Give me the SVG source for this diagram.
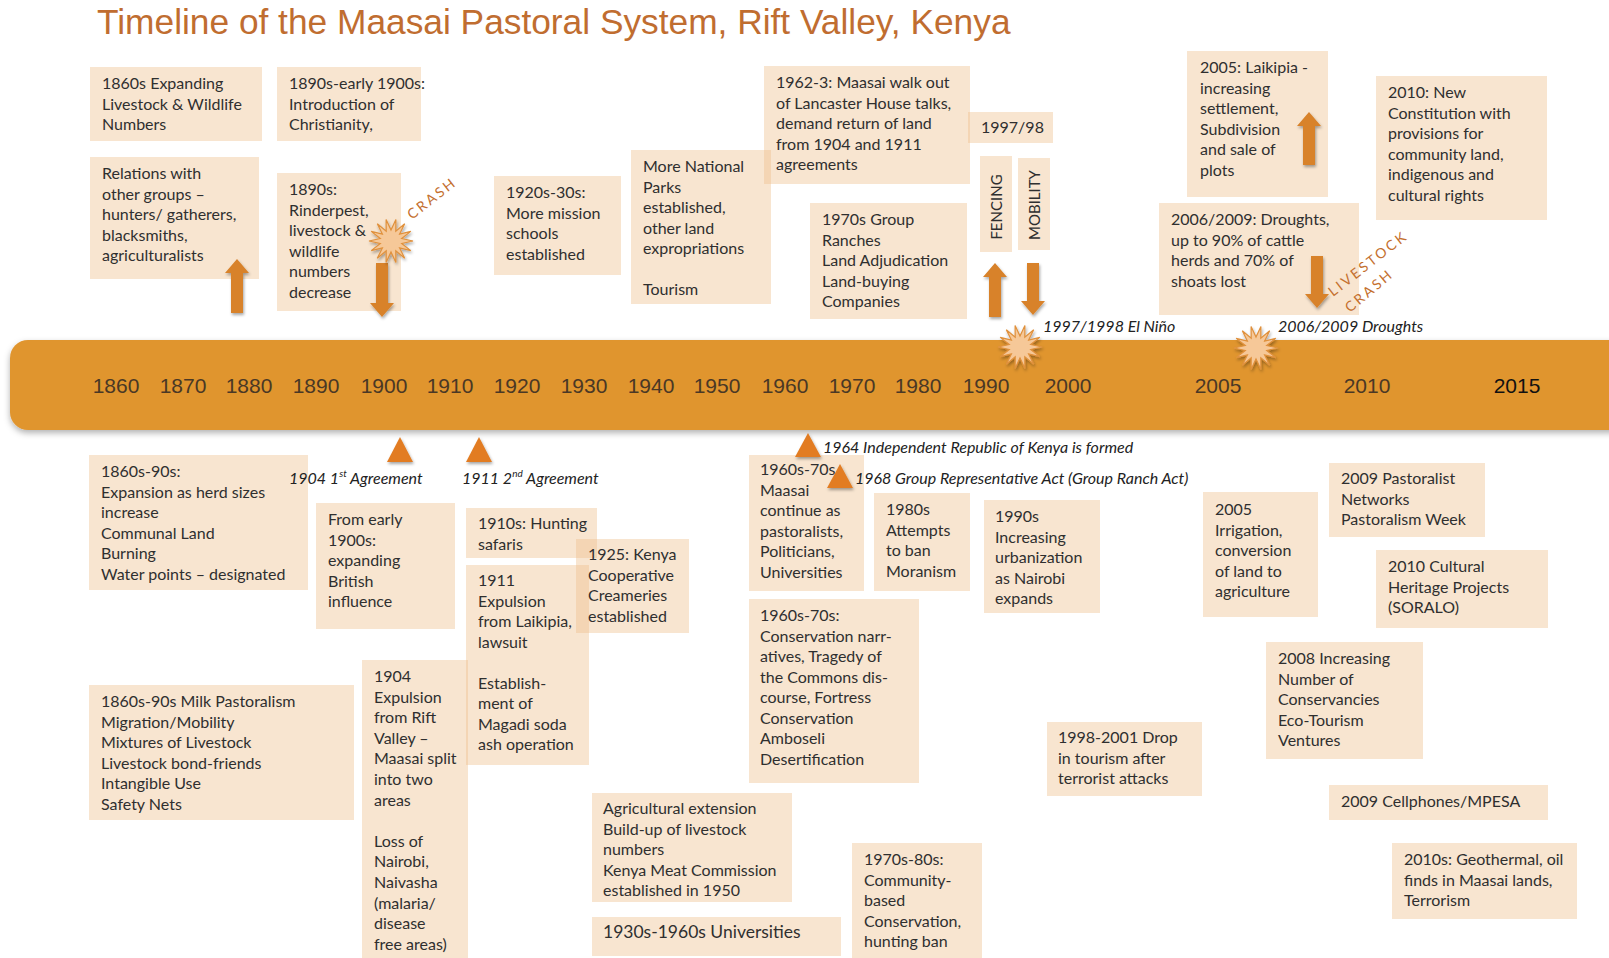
<svg xmlns="http://www.w3.org/2000/svg" width="1609" height="958" viewBox="0 0 1609 958">
<defs>
<filter id="sh" x="-10%" y="-30%" width="120%" height="170%"><feDropShadow dx="0" dy="3" stdDeviation="3" flood-color="#000" flood-opacity="0.3"/></filter>
<filter id="sh2" x="-40%" y="-40%" width="180%" height="180%"><feDropShadow dx="1" dy="2" stdDeviation="1.5" flood-color="#000" flood-opacity="0.35"/></filter>
<path id="star" d="M22,0 L10.7,2.5 L19.8,9.6 L8.6,6.9 L13.7,17.2 L4.8,9.9 L4.9,21.5 L0,11 L-4.9,21.5 L-4.8,9.9 L-13.7,17.2 L-8.6,6.9 L-19.8,9.6 L-10.7,2.5 L-22,0 L-10.7,-2.5 L-19.8,-9.6 L-8.6,-6.9 L-13.7,-17.2 L-4.8,-9.9 L-4.9,-21.5 L0,-11 L4.9,-21.5 L4.8,-9.9 L13.7,-17.2 L8.6,-6.9 L19.8,-9.6 L10.7,-2.5 Z"/>
</defs>
<style>
.box{fill:#eebd8a;fill-opacity:0.4}
.t{font-family:Lato,"Open Sans","Liberation Sans",sans-serif;font-size:16px;fill:#2f2f2f}
.it{font-family:Lato,"Open Sans","Liberation Sans",sans-serif;font-size:16px;font-style:italic;fill:#222}
.yr{font-family:"Liberation Sans",Arial,sans-serif;font-size:21px;fill:#4a3825;text-anchor:middle}
.yr2{font-family:"Liberation Sans",Arial,sans-serif;font-size:21px;fill:#111;text-anchor:middle}
.rot{font-family:Lato,"Open Sans",sans-serif;font-size:14px;fill:#c4702f;letter-spacing:2.5px}
.vt{font-family:Lato,"Open Sans",sans-serif;font-size:15px;fill:#2f2f2f;text-anchor:middle}
.arr{fill:#d8822a;filter:url(#sh2)}
.tri{fill:#e27c22;filter:url(#sh2)}
.burst{fill:#f6c898;stroke:#e0913d;stroke-width:1.2;filter:url(#sh2)}
</style>
<rect width="1609" height="958" fill="#ffffff"/>
<text x="97" y="34" font-family="Liberation Sans, Arial, sans-serif" font-size="35.3" fill="#c06d30">Timeline of the Maasai Pastoral System, Rift Valley, Kenya</text>

<g id="timeline-bar">
<rect x="10" y="340" width="1650" height="90" rx="18" fill="#e0952f" filter="url(#sh)"/>
<text class="yr" x="116" y="393">1860</text>
<text class="yr" x="183" y="393">1870</text>
<text class="yr" x="249" y="393">1880</text>
<text class="yr" x="316" y="393">1890</text>
<text class="yr" x="384" y="393">1900</text>
<text class="yr" x="450" y="393">1910</text>
<text class="yr" x="517" y="393">1920</text>
<text class="yr" x="584" y="393">1930</text>
<text class="yr" x="651" y="393">1940</text>
<text class="yr" x="717" y="393">1950</text>
<text class="yr" x="785" y="393">1960</text>
<text class="yr" x="852" y="393">1970</text>
<text class="yr" x="918" y="393">1980</text>
<text class="yr" x="986" y="393">1990</text>
<text class="yr" x="1068" y="393">2000</text>
<text class="yr" x="1218" y="393">2005</text>
<text class="yr" x="1367" y="393">2010</text>
<text class="yr2" x="1517" y="393">2015</text>
</g>

<g id="n-1860s-expanding"><rect class="box" x="90" y="67" width="172" height="74"/><text class="t" x="102" y="89"><tspan x="102">1860s Expanding</tspan><tspan x="102" dy="20.5">Livestock &amp; Wildlife</tspan><tspan x="102" dy="20.5">Numbers</tspan></text></g>
<g id="n-christianity"><rect class="box" x="277" y="67" width="144" height="74"/><text class="t" x="289" y="89"><tspan x="289">1890s-early 1900s:</tspan><tspan x="289" dy="20.5">Introduction of</tspan><tspan x="289" dy="20.5">Christianity,</tspan></text></g>
<g id="n-relations"><rect class="box" x="90" y="157" width="169" height="122"/><text class="t" x="102" y="179"><tspan x="102">Relations with</tspan><tspan x="102" dy="20.5">other groups –</tspan><tspan x="102" dy="20.5">hunters/ gatherers,</tspan><tspan x="102" dy="20.5">blacksmiths,</tspan><tspan x="102" dy="20.5">agriculturalists</tspan></text></g>
<g id="n-rinderpest"><rect class="box" x="277" y="173" width="124" height="138"/><text class="t" x="289" y="195"><tspan x="289">1890s:</tspan><tspan x="289" dy="20.5">Rinderpest,</tspan><tspan x="289" dy="20.5">livestock &amp;</tspan><tspan x="289" dy="20.5">wildlife</tspan><tspan x="289" dy="20.5">numbers</tspan><tspan x="289" dy="20.5">decrease</tspan></text></g>
<g id="n-missions"><rect class="box" x="494" y="176" width="127" height="99"/><text class="t" x="506" y="198"><tspan x="506">1920s-30s:</tspan><tspan x="506" dy="20.5">More mission</tspan><tspan x="506" dy="20.5">schools</tspan><tspan x="506" dy="20.5">established</tspan></text></g>
<g id="n-national-parks"><rect class="box" x="631" y="150" width="140" height="154"/><text class="t" x="643" y="172"><tspan x="643">More National</tspan><tspan x="643" dy="20.5">Parks</tspan><tspan x="643" dy="20.5">established,</tspan><tspan x="643" dy="20.5">other land</tspan><tspan x="643" dy="20.5">expropriations</tspan><tspan x="643" dy="41">Tourism</tspan></text></g>
<g id="n-lancaster"><rect class="box" x="764" y="66" width="206" height="118"/><text class="t" x="776" y="88"><tspan x="776">1962-3: Maasai walk out</tspan><tspan x="776" dy="20.5">of Lancaster House talks,</tspan><tspan x="776" dy="20.5">demand return of land</tspan><tspan x="776" dy="20.5">from 1904 and 1911</tspan><tspan x="776" dy="20.5">agreements</tspan></text></g>
<g id="n-group-ranches"><rect class="box" x="810" y="203" width="157" height="116"/><text class="t" x="822" y="225"><tspan x="822">1970s Group</tspan><tspan x="822" dy="20.5">Ranches</tspan><tspan x="822" dy="20.5">Land Adjudication</tspan><tspan x="822" dy="20.5">Land-buying</tspan><tspan x="822" dy="20.5">Companies</tspan></text></g>
<g id="n-1997-98"><rect class="box" x="968" y="112" width="85" height="31"/><text class="t" x="981" y="133">1997/98</text></g>
<g id="n-fencing"><rect class="box" x="980" y="156" width="32" height="96"/><text class="vt" transform="translate(1001.5,207) rotate(-90)">FENCING</text></g>
<g id="n-mobility"><rect class="box" x="1018" y="158" width="32" height="92"/><text class="vt" transform="translate(1039.5,205) rotate(-90)">MOBILITY</text></g>
<g id="n-laikipia"><rect class="box" x="1187" y="51" width="141" height="146"/><text class="t" x="1200" y="73"><tspan x="1200">2005: Laikipia -</tspan><tspan x="1200" dy="20.5">increasing</tspan><tspan x="1200" dy="20.5">settlement,</tspan><tspan x="1200" dy="20.5">Subdivision</tspan><tspan x="1200" dy="20.5">and sale of</tspan><tspan x="1200" dy="20.5">plots</tspan></text></g>
<g id="n-constitution"><rect class="box" x="1376" y="76" width="171" height="144"/><text class="t" x="1388" y="98"><tspan x="1388">2010: New</tspan><tspan x="1388" dy="20.5">Constitution with</tspan><tspan x="1388" dy="20.5">provisions for</tspan><tspan x="1388" dy="20.5">community land,</tspan><tspan x="1388" dy="20.5">indigenous and</tspan><tspan x="1388" dy="20.5">cultural rights</tspan></text></g>
<g id="n-droughts"><rect class="box" x="1159" y="203" width="200" height="112"/><text class="t" x="1171" y="225"><tspan x="1171">2006/2009: Droughts,</tspan><tspan x="1171" dy="20.5">up to 90% of cattle</tspan><tspan x="1171" dy="20.5">herds and 70% of</tspan><tspan x="1171" dy="20.5">shoats lost</tspan></text></g>

<g id="n-expansion"><rect class="box" x="89" y="455" width="219" height="135"/><text class="t" x="101" y="477"><tspan x="101">1860s-90s:</tspan><tspan x="101" dy="20.5">Expansion as herd sizes</tspan><tspan x="101" dy="20.5">increase</tspan><tspan x="101" dy="20.5">Communal Land</tspan><tspan x="101" dy="20.5">Burning</tspan><tspan x="101" dy="20.5">Water points – designated</tspan></text></g>
<g id="n-british"><rect class="box" x="316" y="503" width="139" height="126"/><text class="t" x="328" y="525"><tspan x="328">From early</tspan><tspan x="328" dy="20.5">1900s:</tspan><tspan x="328" dy="20.5">expanding</tspan><tspan x="328" dy="20.5">British</tspan><tspan x="328" dy="20.5">influence</tspan></text></g>
<g id="n-safaris"><rect class="box" x="466" y="508" width="131" height="50"/><text class="t" x="478" y="529"><tspan x="478">1910s: Hunting</tspan><tspan x="478" dy="20.5">safaris</tspan></text></g>
<g id="n-laikipia-1911"><rect class="box" x="466" y="565" width="123" height="200"/><text class="t" x="478" y="586"><tspan x="478">1911</tspan><tspan x="478" dy="20.5">Expulsion</tspan><tspan x="478" dy="20.5">from Laikipia,</tspan><tspan x="478" dy="20.5">lawsuit</tspan><tspan x="478" dy="41">Establish-</tspan><tspan x="478" dy="20.5">ment of</tspan><tspan x="478" dy="20.5">Magadi soda</tspan><tspan x="478" dy="20.5">ash operation</tspan></text></g>
<g id="n-creameries"><rect class="box" x="576" y="539" width="113" height="94"/><text class="t" x="588" y="560"><tspan x="588">1925: Kenya</tspan><tspan x="588" dy="20.5">Cooperative</tspan><tspan x="588" dy="20.5">Creameries</tspan><tspan x="588" dy="20.5">established</tspan></text></g>
<g id="n-milk"><rect class="box" x="89" y="685" width="265" height="135"/><text class="t" x="101" y="707"><tspan x="101">1860s-90s Milk Pastoralism</tspan><tspan x="101" dy="20.5">Migration/Mobility</tspan><tspan x="101" dy="20.5">Mixtures of Livestock</tspan><tspan x="101" dy="20.5">Livestock bond-friends</tspan><tspan x="101" dy="20.5">Intangible Use</tspan><tspan x="101" dy="20.5">Safety Nets</tspan></text></g>
<g id="n-rift-1904"><rect class="box" x="362" y="660" width="106" height="298"/><text class="t" x="374" y="682"><tspan x="374">1904</tspan><tspan x="374" dy="20.6">Expulsion</tspan><tspan x="374" dy="20.6">from Rift</tspan><tspan x="374" dy="20.6">Valley –</tspan><tspan x="374" dy="20.6">Maasai split</tspan><tspan x="374" dy="20.6">into two</tspan><tspan x="374" dy="20.6">areas</tspan><tspan x="374" dy="41.2">Loss of</tspan><tspan x="374" dy="20.6">Nairobi,</tspan><tspan x="374" dy="20.6">Naivasha</tspan><tspan x="374" dy="20.6">(malaria/</tspan><tspan x="374" dy="20.6">disease</tspan><tspan x="374" dy="20.6">free areas)</tspan></text></g>
<g id="n-agri"><rect class="box" x="592" y="793" width="200" height="109"/><text class="t" x="603" y="814"><tspan x="603">Agricultural extension</tspan><tspan x="603" dy="20.5">Build-up of livestock</tspan><tspan x="603" dy="20.5">numbers</tspan><tspan x="603" dy="20.5">Kenya Meat Commission</tspan><tspan x="603" dy="20.5">established in 1950</tspan></text></g>
<g id="n-universities"><rect class="box" x="592" y="917" width="249" height="39"/><text class="t" x="603" y="938" style="font-size:17.5px">1930s-1960s Universities</text></g>
<g id="n-1960s-maasai"><rect class="box" x="749" y="455" width="115" height="136"/><text class="t" x="760" y="475"><tspan x="760">1960s-70s</tspan><tspan x="760" dy="20.5">Maasai</tspan><tspan x="760" dy="20.5">continue as</tspan><tspan x="760" dy="20.5">pastoralists,</tspan><tspan x="760" dy="20.5">Politicians,</tspan><tspan x="760" dy="20.5">Universities</tspan></text></g>
<g id="n-moranism"><rect class="box" x="874" y="493" width="96" height="98"/><text class="t" x="886" y="515"><tspan x="886">1980s</tspan><tspan x="886" dy="20.5">Attempts</tspan><tspan x="886" dy="20.5">to ban</tspan><tspan x="886" dy="20.5">Moranism</tspan></text></g>
<g id="n-conservation"><rect class="box" x="749" y="599" width="170" height="184"/><text class="t" x="760" y="621"><tspan x="760">1960s-70s:</tspan><tspan x="760" dy="20.5">Conservation narr-</tspan><tspan x="760" dy="20.5">atives, Tragedy of</tspan><tspan x="760" dy="20.5">the Commons dis-</tspan><tspan x="760" dy="20.5">course, Fortress</tspan><tspan x="760" dy="20.5">Conservation</tspan><tspan x="760" dy="20.5">Amboseli</tspan><tspan x="760" dy="20.5">Desertification</tspan></text></g>
<g id="n-community"><rect class="box" x="852" y="843" width="130" height="115"/><text class="t" x="864" y="865"><tspan x="864">1970s-80s:</tspan><tspan x="864" dy="20.5">Community-</tspan><tspan x="864" dy="20.5">based</tspan><tspan x="864" dy="20.5">Conservation,</tspan><tspan x="864" dy="20.5">hunting ban</tspan></text></g>
<g id="n-urbanization"><rect class="box" x="984" y="500" width="116" height="113"/><text class="t" x="995" y="522"><tspan x="995">1990s</tspan><tspan x="995" dy="20.5">Increasing</tspan><tspan x="995" dy="20.5">urbanization</tspan><tspan x="995" dy="20.5">as Nairobi</tspan><tspan x="995" dy="20.5">expands</tspan></text></g>
<g id="n-tourism-drop"><rect class="box" x="1047" y="722" width="155" height="74"/><text class="t" x="1058" y="743"><tspan x="1058">1998-2001 Drop</tspan><tspan x="1058" dy="20.5">in tourism after</tspan><tspan x="1058" dy="20.5">terrorist attacks</tspan></text></g>
<g id="n-irrigation"><rect class="box" x="1203" y="492" width="115" height="125"/><text class="t" x="1215" y="515"><tspan x="1215">2005</tspan><tspan x="1215" dy="20.5">Irrigation,</tspan><tspan x="1215" dy="20.5">conversion</tspan><tspan x="1215" dy="20.5">of land to</tspan><tspan x="1215" dy="20.5">agriculture</tspan></text></g>
<g id="n-networks"><rect class="box" x="1329" y="463" width="156" height="74"/><text class="t" x="1341" y="484"><tspan x="1341">2009 Pastoralist</tspan><tspan x="1341" dy="20.5">Networks</tspan><tspan x="1341" dy="20.5">Pastoralism Week</tspan></text></g>
<g id="n-heritage"><rect class="box" x="1376" y="550" width="172" height="78"/><text class="t" x="1388" y="572"><tspan x="1388">2010 Cultural</tspan><tspan x="1388" dy="20.5">Heritage Projects</tspan><tspan x="1388" dy="20.5">(SORALO)</tspan></text></g>
<g id="n-conservancies"><rect class="box" x="1266" y="642" width="157" height="117"/><text class="t" x="1278" y="664"><tspan x="1278">2008 Increasing</tspan><tspan x="1278" dy="20.5">Number of</tspan><tspan x="1278" dy="20.5">Conservancies</tspan><tspan x="1278" dy="20.5">Eco-Tourism</tspan><tspan x="1278" dy="20.5">Ventures</tspan></text></g>
<g id="n-mpesa"><rect class="box" x="1329" y="785" width="219" height="35"/><text class="t" x="1341" y="807">2009 Cellphones/MPESA</text></g>
<g id="n-geothermal"><rect class="box" x="1392" y="843" width="185" height="76"/><text class="t" x="1404" y="865"><tspan x="1404">2010s: Geothermal, oil</tspan><tspan x="1404" dy="20.5">finds in Maasai lands,</tspan><tspan x="1404" dy="20.5">Terrorism</tspan></text></g>

<g id="connectors">
<path class="arr" d="M237,259 L249,273 L243,273 L243,313 L231,313 L231,273 L225,273 Z"/>
<path class="arr" d="M376,263 L388,263 L388,303 L394,303 L382,317 L370,303 L376,303 Z"/>
<path class="arr" d="M995,263 L1007,277 L1001,277 L1001,317 L989,317 L989,277 L983,277 Z"/>
<path class="arr" d="M1027,263 L1039,263 L1039,301 L1045,301 L1033,315 L1021,301 L1027,301 Z"/>
<path class="arr" d="M1309,112 L1321,126 L1315,126 L1315,165 L1303,165 L1303,126 L1297,126 Z"/>
<path class="arr" d="M1311,256 L1323,256 L1323,294 L1329,294 L1317,308 L1305,294 L1311,294 Z"/>
<path class="tri" d="M400,437 L413,462 L387,462 Z"/>
<path class="tri" d="M479,437 L492,462 L466,462 Z"/>
<path class="tri" d="M808,433 L821,457 L795,457 Z"/>
<path class="tri" d="M840,464 L853,488 L827,488 Z"/>
</g>

<g id="events">
<use href="#star" class="burst" transform="translate(391,241)"/>
<use href="#star" class="burst" transform="translate(1020,347)"/>
<use href="#star" class="burst" transform="translate(1256,348)"/>
<text class="rot" transform="translate(412,220) rotate(-38)">CRASH</text>
<text class="rot" transform="translate(1333,297) rotate(-38)">LIVESTOCK</text>
<text class="rot" transform="translate(1350,313) rotate(-40)">CRASH</text>
<text class="it" x="1043" y="332">1997/1998 El Niño</text>
<text class="it" x="1278" y="332">2006/2009 Droughts</text>
<text class="it" x="289" y="484">1904 1<tspan font-size="10" dy="-7">st</tspan><tspan dy="7"> Agreement</tspan></text>
<text class="it" x="462" y="484">1911 2<tspan font-size="10" dy="-7">nd</tspan><tspan dy="7"> Agreement</tspan></text>
<text class="it" x="823" y="453">1964 Independent Republic of Kenya is formed</text>
<text class="it" x="855" y="484">1968 Group Representative Act (Group Ranch Act)</text>
</g>
</svg>
